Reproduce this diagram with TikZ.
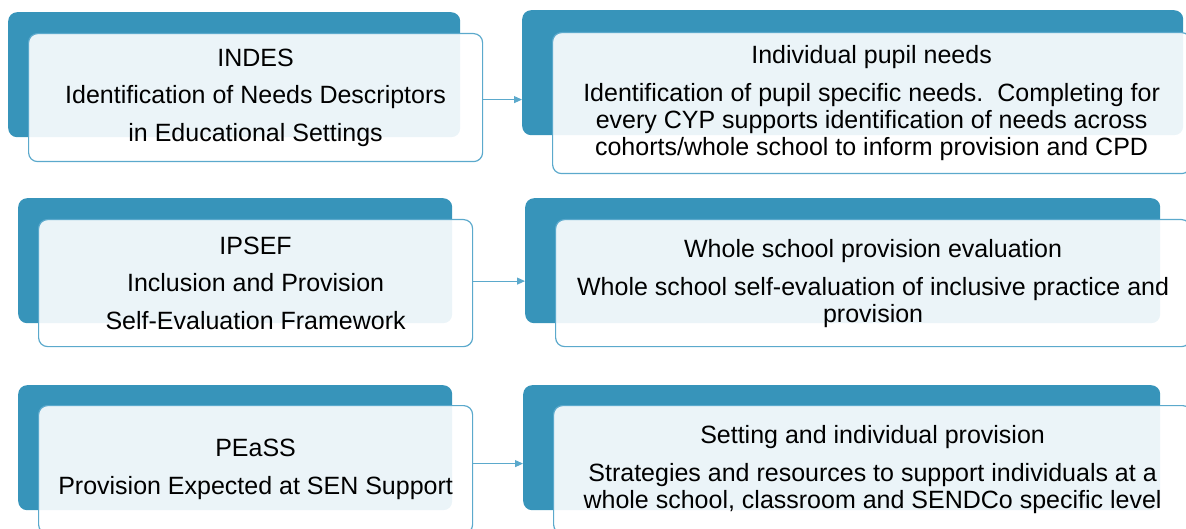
\documentclass[tikz,border=0pt]{standalone}
\usepackage{fontspec}
\setmainfont{Liberation Sans}
\usetikzlibrary{arrows.meta}
\definecolor{darkb}{HTML}{3794BA}
\definecolor{edgeb}{HTML}{5BA9CC}
\begin{document}
\begin{tikzpicture}[x=1pt,y=-1pt,
  back/.style={draw=none, fill=darkb, rounded corners=9pt, anchor=north west, inner sep=0pt},
  front/.style={draw=edgeb, line width=1.2pt, fill=white, fill opacity=0.9, text opacity=1,
    rounded corners=9pt, anchor=north west, inner sep=0pt, align=center},
  lefttext/.style={font=\fontsize{25}{37.5}\selectfont},
  righttext/.style={font=\fontsize{25}{27}\selectfont},
  link/.style={draw=edgeb, line width=1pt, -{Triangle[length=8pt,width=7pt]}}]
\useasboundingbox (0,0) rectangle (1186,529);
\clip (0,0) rectangle (1186,529);
% row 1
\node[back, minimum width=452pt, minimum height=125pt] (b1) at (8,12) {};
\node[front, lefttext, minimum width=454pt, minimum height=128pt] (f1) at (28,33)
  {INDES\\Identification of Needs Descriptors\\in Educational Settings};
\node[back, minimum width=661pt, minimum height=125pt] (b2) at (522,10) {};
\node[front, righttext, minimum width=638pt, minimum height=141pt] (f2) at (552,32)
  {Individual pupil needs\\[11pt]Identification of pupil specific needs.\ \ Completing for\\every CYP supports identification of needs across\\cohorts/whole school to inform provision and CPD};
% row 2
\node[back, minimum width=434pt, minimum height=125pt] (b3) at (18,198) {};
\node[front, lefttext, minimum width=434pt, minimum height=127pt] (f3) at (38,219)
  {IPSEF\\Inclusion and Provision\\Self-Evaluation Framework};
\node[back, minimum width=635pt, minimum height=125pt] (b4) at (525,198) {};
\node[front, righttext, minimum width=635pt, minimum height=127pt] (f4) at (555,219)
  {Whole school provision evaluation\\[11pt]Whole school self-evaluation of inclusive practice and\\provision};
% row 3
\node[back, minimum width=434pt, minimum height=125pt] (b5) at (18,385) {};
\node[front, lefttext, minimum width=434pt, minimum height=128pt] (f5) at (38,405)
  {PEaSS\\Provision Expected at SEN Support};
\node[back, minimum width=637pt, minimum height=125pt] (b6) at (523,385) {};
\node[front, righttext, minimum width=638pt, minimum height=128pt] (f6) at (553,405)
  {Setting and individual provision\\[11pt]Strategies and resources to support individuals at a\\whole school, classroom and SENDCo specific level};
% connectors
\draw[link] ([yshift=-2pt]f1.east) -- ([yshift=-2pt]f1.east -| b2.west);
\draw[link] ([yshift=2pt]f3.east) -- ([yshift=2pt]f3.east -| b4.west);
\draw[link] ([yshift=6pt]f5.east) -- ([yshift=6pt]f5.east -| b6.west);
\end{tikzpicture}
\end{document}
